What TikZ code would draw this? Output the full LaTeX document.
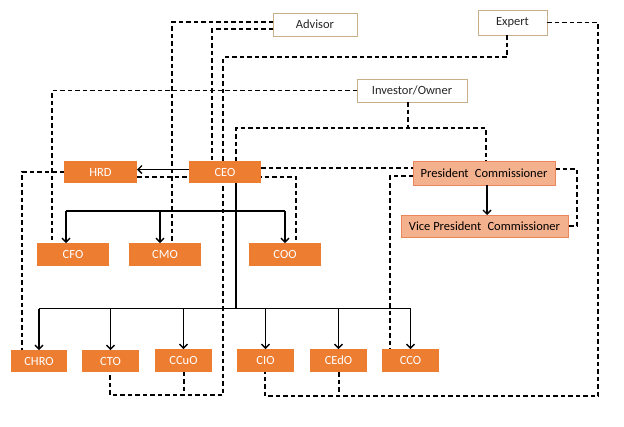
\documentclass[tikz,border=0pt]{standalone}
\usepackage{fontspec}
\setmainfont{Carlito}
\usetikzlibrary{arrows.meta,calc}
\definecolor{boxorange}{HTML}{ED7D31}
\definecolor{salmonfill}{HTML}{F4B18E}
\definecolor{salmonline}{HTML}{E9875A}
\definecolor{tanline}{HTML}{C8AF8A}
\definecolor{darktext}{HTML}{262626}
\begin{document}
\begin{tikzpicture}[x=1pt,y=-1pt,
  every node/.style={font=\fontsize{12.5}{15}\selectfont, inner sep=0pt, outer sep=0pt},
  role/.style={rectangle, fill=boxorange, text=white},
  board/.style={rectangle, fill=salmonfill, draw=salmonline, line width=0.8pt, text=black},
  outside/.style={rectangle, fill=white, draw=tanline, line width=0.9pt, text=darktext},
  dl/.style={draw=black, line width=1.3pt, dash pattern=on 4.5pt off 3pt},
  sl/.style={draw=black, line width=1.4pt},
  arr/.style={sl, -{Straight Barb[length=4pt,width=8pt]}}]
\useasboundingbox (0,0) rectangle (624,426);

% external parties
\node[outside, minimum width=84pt, minimum height=23pt] (adv) at (315,24.5) {Advisor};
\node[outside, minimum width=69pt, minimum height=25pt] (exp) at (512.5,22.5) {Expert};
\node[outside, minimum width=110pt, minimum height=23pt] (inv) at (412,90.5) {Investor/Owner};

% coordinates where shared dashed lines meet
\coordinate (ij) at (408,128);
\coordinate (eb) at (223,395);
\coordinate (xb) at (598,396);
\coordinate (b1) at (236,211);
\coordinate (b2) at (236,308.5);

% dashed reporting lines (drawn first so the boxes sit on top)
\draw[dl] ([yshift=2.5pt]adv.west) -| (172,243);
\draw[dl] ([yshift=-4.5pt]adv.west) -| (212,161);
\draw[dl] ([xshift=-5.5pt]exp.south) |- (223,57) -- (eb) -| (110,350);
\draw[dl] (184,349) -- (184,395);
\draw[dl] (inv.west) -| (52,243);
\draw[dl] ([xshift=-4pt]inv.south) -- (ij);
\draw[dl] (236,161) |- (ij) -| (486,161);
\draw[dl] (exp.east) -| (xb) -| (265,372);
\draw[dl] (339,372) -- (339,396);
\draw[dl] (64,172) -| (22,350);
\draw[dl] (137,177) -| (296,243);
\draw[dl] (261,168) -- (413,168);
\draw[dl] (413,176) -| (390,349);
\draw[dl] (555,169) -| (577,226) -- (568,226);

% company roles
\node[role, minimum width=73pt, minimum height=22pt] (hrd) at (100.5,172) {HRD};
\node[role, minimum width=72pt, minimum height=22pt] (ceo) at (225,172) {CEO};
\node[role, minimum width=72pt, minimum height=23pt] (cfo) at (73,254.5) {CFO};
\node[role, minimum width=72pt, minimum height=23pt] (cmo) at (165,254.5) {CMO};
\node[role, minimum width=72pt, minimum height=23pt] (coo) at (285,254.5) {COO};
\node[role, minimum width=56pt, minimum height=22pt] (chro) at (39,361) {CHRO};
\node[role, minimum width=57pt, minimum height=22pt] (cto) at (110.5,361) {CTO};
\node[role, minimum width=57pt, minimum height=23pt] (ccuo) at (183.5,360.5) {CCuO};
\node[role, minimum width=57pt, minimum height=23pt] (cio) at (265.5,360.5) {CIO};
\node[role, minimum width=57pt, minimum height=23pt] (cedo) at (338.5,360.5) {CEdO};
\node[role, minimum width=57pt, minimum height=23pt] (cco) at (410.5,360.5) {CCO};

% board of commissioners
\node[board, minimum width=142pt, minimum height=24pt] (pc) at (484,173) {President\hspace{0.5em}Commissioner};
\node[board, minimum width=167pt, minimum height=22pt] (vpc) at (484.5,226) {Vice President\hspace{0.5em}Commissioner};

% solid command lines
\draw[arr] ([yshift=2.5pt]ceo.west) -- ([yshift=2.5pt]hrd.east);
\draw[sl] ([xshift=11pt]ceo.south) -- (b2);
\draw[sl] ([xshift=-7pt]cfo.north |- b1) -- (coo.north |- b1);
\draw[arr] ([xshift=-7pt]cfo.north |- b1) -- ([xshift=-7pt]cfo.north);
\draw[arr] ([xshift=-5pt]cmo.north |- b1) -- ([xshift=-5pt]cmo.north);
\draw[arr] (coo.north |- b1) -- (coo.north);
\draw[sl] (chro.north |- b2) -- (cco.north |- b2);
\foreach \n in {chro,cto,ccuo,cio,cedo,cco}
  \draw[arr] (\n.north |- b2) -- (\n.north);
\draw[arr] ([xshift=3pt]pc.south) -- ([xshift=2.5pt]vpc.north);
\end{tikzpicture}
\end{document}
